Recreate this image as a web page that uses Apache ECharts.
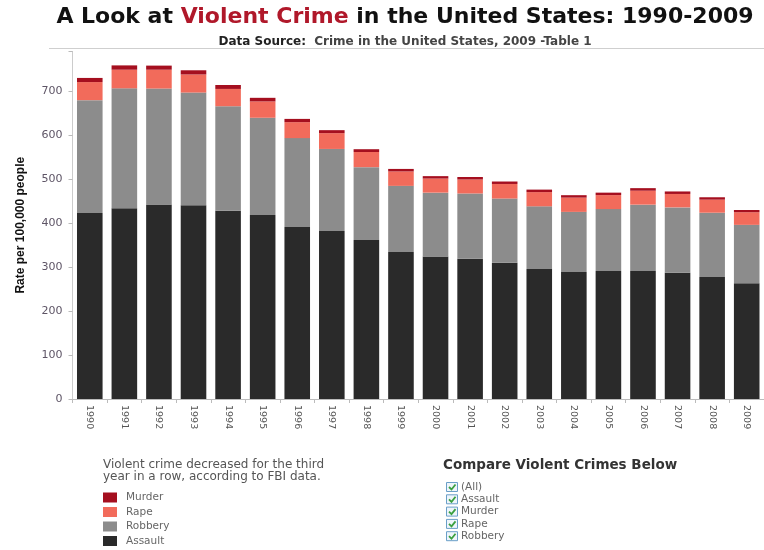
<!DOCTYPE html>
<html>
<head>
<meta charset="utf-8">
<script src="https://cdn.jsdelivr.net/npm/echarts@6/dist/echarts.min.js"></script>
<style>html,body{margin:0;padding:0;background:#fff;}#c{width:764px;height:550px;}</style>
</head>
<body>
<div id="c"></div>
<script>
const years = ['1990','1991','1992','1993','1994','1995','1996','1997','1998','1999','2000','2001','2002','2003','2004','2005','2006','2007','2008','2009'];
const assault = [422.9,433.4,441.9,440.5,427.6,418.3,391.0,382.1,361.4,334.3,324.0,318.6,309.5,295.4,288.6,290.8,291.1,287.2,277.5,262.8];
const robbery = [256.3,272.7,263.7,256.0,237.8,220.9,201.9,186.2,165.5,150.1,145.0,148.5,146.1,142.5,136.7,140.8,150.6,148.3,145.9,133.0];
const rape = [41.1,42.3,42.8,41.1,39.3,37.1,36.3,35.9,34.5,32.8,32.0,31.8,33.1,32.3,32.4,31.8,31.7,30.5,29.7,28.7];
const murder = [9.4,9.8,9.3,9.5,9.0,8.2,7.4,6.8,6.3,5.7,5.5,5.6,5.6,5.7,5.5,5.6,5.8,5.7,5.4,5.0];
const yTicks = [0,100,200,300,400,500,600,700];
const checkItems = ['(All)','Assault','Murder','Rape','Robbery'];

const FONT = '"DejaVu Sans", Verdana, sans-serif';
const colors = {Murder:'#a50f1f', Rape:'#f26b5b', Robbery:'#8c8c8c', Assault:'#2a2a2a'};
const chart = echarts.init(document.getElementById('c'));

const graphics = [
  {type:'line', shape:{x1:49,y1:48.5,x2:764,y2:48.5}, style:{stroke:'#cfcfcf', lineWidth:1}},
  {type:'text', left:103, top:459, style:{text:'Violent crime decreased for the third\nyear in a row, according to FBI data.', font:'12px ' + FONT, fill:'#555', lineHeight:12}},
  {type:'text', left:443, top:458, style:{text:'Compare Violent Crimes Below', font:'bold 13.5px ' + FONT, fill:'#333'}}
];
checkItems.forEach((t,i)=>{
  const y = 482 + i*12.3;
  graphics.push({type:'rect', shape:{x:446.5,y:y+0.5,width:11,height:9}, style:{fill:'#eef5fb', stroke:'#6a9fc8', lineWidth:1}});
  graphics.push({type:'polyline', shape:{points:[[449,y+5],[451.5,y+7.5],[455.5,y+2.5]]}, style:{stroke:'#3aa040', lineWidth:1.8, fill:null}});
  graphics.push({type:'text', left:461, top:y-0.5, style:{text:t, font:'10.5px ' + FONT, fill:'#666'}});
});

chart.setOption({
  animation:false,
  title:[{
    left:400, top:1, textAlign:'center',
    text:'{b|A Look at }{r|Violent Crime}{b| in the United States: 1990-2009}',
    textStyle:{rich:{
      b:{fontSize:22, fontWeight:'bold', color:'#111', fontFamily:FONT},
      r:{fontSize:22, fontWeight:'bold', color:'#b0182a', fontFamily:FONT}
    }}
  },{
    left:400, top:31, textAlign:'center',
    text:'{b|Data Source:}{n|  Crime in the United States, 2009 -Table 1}',
    textStyle:{rich:{
      b:{fontSize:12, fontWeight:'bold', color:'#222', fontFamily:FONT},
      n:{fontSize:12, color:'#444', fontFamily:FONT}
    }}
  }],
  legend:{
    orient:'vertical', left:103, top:492, padding:0, itemWidth:14, itemHeight:10, itemGap:3.5,
    data:['Murder','Rape','Robbery','Assault'],
    textStyle:{fontSize:10.5, color:'#666', fontFamily:FONT, padding:[0,0,0,4]},
    icon:'rect', selectedMode:false
  },
  grid:{left:72.5, right:-12.5, top:51.4, bottom:151, containLabel:false},
  xAxis:{
    type:'category', data:years,
    axisLine:{lineStyle:{color:'#bbb'}},
    axisTick:{show:true, length:4, lineStyle:{color:'#bbb'}},
    axisLabel:{rotate:-90, fontSize:9.5, color:'#555', margin:6, fontFamily:FONT}
  },
  yAxis:{
    type:'value', min:0, max:790, interval:100,
    name:'Rate per 100,000 people', nameLocation:'middle', nameGap:46, nameRotate:90,
    nameTextStyle:{fontSize:12, fontWeight:'bold', color:'#111', fontFamily:'"Liberation Sans Narrow", "Liberation Sans", Arial, sans-serif'},
    axisLine:{show:true, lineStyle:{color:'#ccc'}},
    axisTick:{show:true, length:4, lineStyle:{color:'#bbb'}},
    splitLine:{show:false},
    axisLabel:{fontSize:11, color:'#5e5566', margin:10, fontFamily:FONT,
      formatter:v=> yTicks.indexOf(v)>=0 ? String(v) : ''}
  },
  graphic:graphics,
  series:[
    {name:'Assault', type:'bar', stack:'a', data:assault, itemStyle:{color:colors.Assault}, barCategoryGap:'26%'},
    {name:'Robbery', type:'bar', stack:'a', data:robbery, itemStyle:{color:colors.Robbery}},
    {name:'Rape', type:'bar', stack:'a', data:rape, itemStyle:{color:colors.Rape}},
    {name:'Murder', type:'bar', stack:'a', data:murder, itemStyle:{color:colors.Murder}}
  ]
});
</script>
</body>
</html>
